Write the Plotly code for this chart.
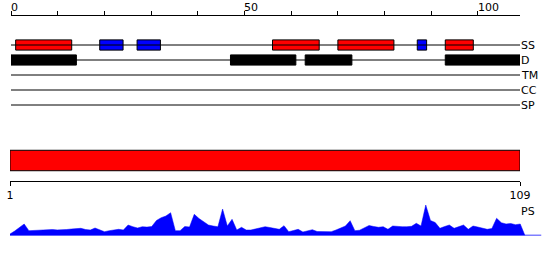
import plotly.graph_objects as go

# ---------------- data ----------------
seq_len = 109
top_tick_labels = [0, 50, 100]
track_names = ["SS", "D", "TM", "CC", "SP"]

helix_start = [1, 56, 70, 93]
helix_end = [13, 66, 82, 99]
strand_start = [19, 27, 87]
strand_end = [24, 32, 89]
disorder_start = [0, 47, 63, 93]
disorder_end = [14, 61, 73, 109]

domain_start = [1]
domain_end = [109]
domain_ticks = [1, 109]

ps_scores = [
    1.5, 4.5, 8.0, 11.5, 4.8, 5.0, 5.3, 5.6, 6.2, 6.0,
    5.6, 5.5, 6.0, 6.5, 6.8, 7.2, 6.0, 5.5, 7.5, 5.5,
    3.8, 4.8, 5.6, 6.2, 5.5, 10.5, 8.8, 7.5, 8.8, 8.4,
    9.0, 15.0, 17.8, 19.5, 22.8, 4.8, 4.8, 9.0, 8.5, 21.2,
    17.0, 13.5, 10.5, 9.5, 8.8, 26.5, 9.5, 16.2, 5.5, 8.2,
    5.5, 5.5, 6.5, 7.8, 8.8, 8.0, 7.0, 6.2, 9.8, 3.8,
    5.0, 6.2, 3.5, 4.5, 5.8, 4.0, 3.8, 3.8, 3.8, 5.5,
    7.5, 9.5, 14.8, 4.8, 5.3, 7.5, 10.0, 9.0, 8.2, 8.8,
    6.2, 9.5, 8.8, 8.8, 8.8, 9.2, 12.2, 9.5, 30.5, 15.0,
    13.0, 7.2, 9.0, 10.5, 7.2, 8.5, 10.5, 6.2, 9.5, 8.5,
    7.5, 6.2, 7.0, 17.2, 12.8, 11.5, 12.0, 10.8, 11.5,
]
assert len(ps_scores) == seq_len

# ---------------- layout helpers ----------------
W, H = 550, 260
FONT = "DejaVu Sans"


def py(p):
    return 1 - p / H


def px(p):
    return p / W


RED = "#FF0000"
BLUE = "#0000FF"
BLACK = "#000000"

fig = go.Figure()

# track baselines
for i, name in enumerate(track_names):
    fig.add_trace(go.Scatter(x=[0, seq_len], y=[i, i], mode="lines",
                             line=dict(color=BLACK, width=1),
                             xaxis="x", yaxis="y", hoverinfo="skip"))


def add_boxes(starts, ends, track, color):
    fig.add_trace(go.Bar(
        orientation="h",
        base=starts,
        x=[e - s for s, e in zip(starts, ends)],
        y=[track] * len(starts),
        width=0.68,
        marker=dict(color=color, line=dict(color=BLACK, width=1)),
        xaxis="x", yaxis="y", hoverinfo="skip"))


add_boxes(helix_start, helix_end, 0, RED)
add_boxes(strand_start, strand_end, 0, BLUE)
add_boxes(disorder_start, disorder_end, 1, BLACK)

# domain bar
fig.add_trace(go.Bar(
    orientation="h",
    base=domain_start,
    x=[e - s for s, e in zip(domain_start, domain_end)],
    y=[0] * len(domain_start),
    width=1.32,
    marker=dict(color=RED, line=dict(color=BLACK, width=1)),
    xaxis="x2", yaxis="y2", hoverinfo="skip"))

# PS profile
ps_axis_end = 113.5
fig.add_trace(go.Scatter(x=[0, ps_axis_end], y=[0, 0], mode="lines",
                         line=dict(color=BLUE, width=1.5),
                         xaxis="x3", yaxis="y3", hoverinfo="skip"))
res = list(range(1, seq_len + 1))
fig.add_trace(go.Scatter(
    x=[0] + res + [seq_len + 1],
    y=[0] + ps_scores + [0],
    mode="lines", fill="tozeroy", fillcolor=BLUE,
    line=dict(color=BLUE, width=0.5),
    xaxis="x3", yaxis="y3", hoverinfo="skip"))

annotations = []
for t in top_tick_labels:
    annotations.append(dict(x=t, xref="x", y=1, yref="paper",
                            text=str(t), showarrow=False, xanchor="left",
                            yanchor="top", xshift=-1, borderpad=0,
                            font=dict(family=FONT, size=11, color=BLACK)))
for i, name in enumerate(track_names):
    annotations.append(dict(x=seq_len, xref="x", y=i, yref="y",
                            text=name, showarrow=False, xanchor="left",
                            yanchor="middle", xshift=-1,
                            font=dict(family=FONT, size=11, color=BLACK)))
annotations.append(dict(x=seq_len, xref="x2", y=py(211), yref="paper",
                        text="PS", showarrow=False, xanchor="left",
                        yanchor="middle", xshift=-1,
                        font=dict(family=FONT, size=11, color=BLACK)))

fig.update_layout(
    template="none",
    width=W, height=H, autosize=False,
    margin=dict(l=0, r=0, t=0, b=0, pad=0),
    paper_bgcolor="white", plot_bgcolor="white",
    showlegend=False, hovermode=False, barmode="overlay",
    font=dict(family=FONT, size=11, color=BLACK),
    xaxis=dict(domain=[px(11), px(520)], range=[0, seq_len],
               anchor="free", position=py(14.5), side="top",
               automargin=False,
               showline=True, linecolor=BLACK, linewidth=1,
               ticks="outside", ticklen=4, tickwidth=1, tickcolor=BLACK,
               tick0=0, dtick=10, showticklabels=False,
               showgrid=False, zeroline=False),
    yaxis=dict(domain=[py(120), py(30)], range=[5, -1], anchor="x",
               automargin=False, visible=False),
    xaxis2=dict(domain=[px(10), px(520)], range=[1, seq_len],
                anchor="free", position=py(180.5), side="bottom",
                automargin=False,
                showline=True, linecolor=BLACK, linewidth=1,
                ticks="outside", ticklen=4, tickwidth=1, tickcolor=BLACK,
                tickvals=domain_ticks, ticktext=[str(v) for v in domain_ticks],
                tickfont=dict(family=FONT, size=11, color=BLACK),
                showgrid=False, zeroline=False),
    yaxis2=dict(domain=[py(176), py(145)], range=[-1, 1], anchor="x2",
                automargin=False, visible=False),
    xaxis3=dict(domain=[px(10), px(541.5)], range=[1, ps_axis_end],
                anchor="y3", automargin=False, visible=False),
    yaxis3=dict(domain=[py(235.5), py(200)], range=[0, 35.5], anchor="x3",
                automargin=False, visible=False),
    annotations=annotations,
)

fig.write_html("out.html", config={"responsive": False})
